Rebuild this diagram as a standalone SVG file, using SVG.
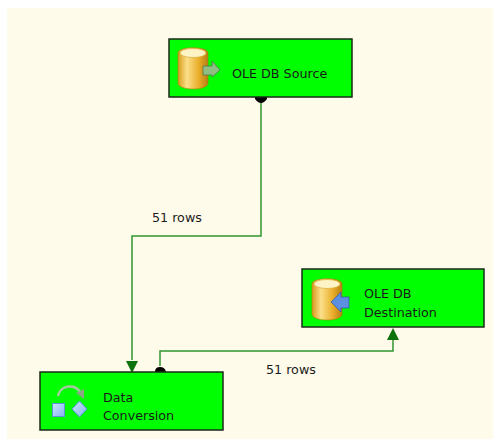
<svg xmlns="http://www.w3.org/2000/svg" width="493" height="439" viewBox="0 0 493 439">
<style>
.box{fill:#00ff00;stroke:#1a2a1a;stroke-width:1.5}
.t{font-family:"DejaVu Sans",Verdana,sans-serif;font-size:12.7px;fill:#1a1a1a}
.c{fill:none;stroke:#2f952f;stroke-width:1.5}
.db{stroke:#a87a10;stroke-width:.6}
</style>
<defs>
<linearGradient id="cyl" x1="0" x2="1" y1="0" y2="0"><stop offset="0" stop-color="#d99a1a"/><stop offset=".3" stop-color="#fbe08a"/><stop offset=".7" stop-color="#e9ad28"/><stop offset="1" stop-color="#b57f12"/></linearGradient>
<linearGradient id="blue" x1="0" x2="1" y1="0" y2="1"><stop offset="0" stop-color="#cfe6ff"/><stop offset="1" stop-color="#80b4ee"/></linearGradient>
<g id="cylinder">
<path class="db" fill="url(#cyl)" d="M0 6C0 -1 30 -1 30 6V36C30 44 0 44 0 36Z"/>
<ellipse cx="15" cy="6" rx="13" ry="4.500" fill="#fdf3c4" stroke="#d6a326" stroke-width=".6"/>
</g>
</defs>
<rect width="493" height="439" fill="#fff"/>
<rect x="7" y="8" width="486" height="431" fill="#fffbea"/>
<g id="connectors">
<path class="c" d="M261 100V236H132V360"/>
<path d="M126 361H138L132 373Z" fill="#0c720c"/>
<path d="M255 97H267V99Q264 103 261 103Q258 103 255 99Z" fill="#000"/>
<path class="c" d="M160 366V351H393V338"/>
<path d="M387 340H399L393 328Z" fill="#0c720c"/>
<path d="M155 372Q155 367 160 367Q165 367 166 372Z" fill="#000"/>
</g>
<g id="source">
<rect class="box" x="169" y="39" width="183" height="58"/>
<use href="#cylinder" x="178" y="47"/>
<path d="M203 66H212V61L220 70L212 77V75H203Z" fill="#8fbf80" stroke="#4f6f4a" stroke-width=".7"/>
<text class="t" x="232" y="78">OLE DB Source</text>
</g>
<g id="destination">
<rect class="box" x="302" y="269" width="182" height="58"/>
<use href="#cylinder" x="312" y="278"/>
<path d="M349 297H341V292L331 302L341 312V308H349Z" fill="#5d8fe0" stroke="#34589a" stroke-width=".7"/>
<text class="t" x="364" y="298">OLE DB</text>
<text class="t" x="364" y="317">Destination</text>
</g>
<g id="conversion">
<rect class="box" x="40" y="372" width="183" height="58"/>
<path d="M58 396C60 385 76 382 82 395" fill="none" stroke="#a8c8a0" stroke-width="2.500"/>
<path d="M76 393L84 399L84 389Z" fill="#8aa884"/>
<rect x="52.500" y="403.500" width="12" height="13" fill="url(#blue)" stroke="#5b93d6"/>
<path d="M79.500 401L87 409L79.500 417L72 409Z" fill="url(#blue)" stroke="#5b93d6"/>
<text class="t" x="103" y="402">Data</text>
<text class="t" x="103" y="420">Conversion</text>
</g>
<text class="t" x="152" y="222">51 rows</text>
<text class="t" x="266" y="374">51 rows</text>
</svg>
